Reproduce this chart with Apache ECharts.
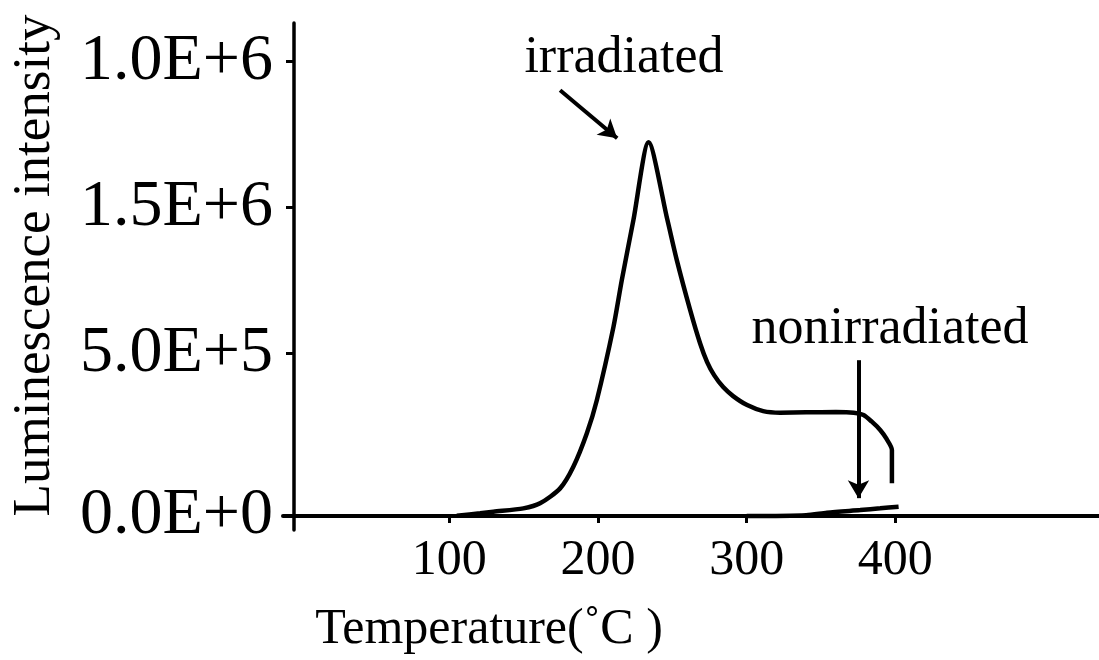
<!DOCTYPE html>
<html>
<head>
<meta charset="utf-8">
<script src="https://cdn.jsdelivr.net/npm/echarts@6/dist/echarts.min.js"></script>
<style>
  html, body { margin: 0; padding: 0; background: #fff; }
  #chart { width: 1099px; height: 660px; }
</style>
</head>
<body>
<div id="chart"></div>
<script>
// ---- data ----
const irrTemp = [105, 120.7, 129.6, 149.8, 161.0, 174.5, 183.4, 192.5, 199.2, 210.4, 216.0, 223.8, 234.0, 246.7, 253.0, 262.0, 268.7, 273.4, 278.1, 284.2, 290.9, 300.3, 311.1, 322.5, 340, 360, 372, 378.6, 384, 389.8, 394, 397.7, 397.7];
const irrIntensity = [1000, 8900, 14200, 25400, 41900, 91300, 162500, 273000, 382000, 624000, 778000, 976000, 1233000, 976000, 844000, 679000, 569000, 507700, 464800, 425300, 395600, 365900, 346100, 341000, 342000, 343000, 341000, 333000, 312000, 284000, 255000, 218000, 108000];

const nonTemp = [300, 340, 354, 376.4, 389.8, 402.2];
const nonIntensity = [0, 3000, 10900, 19800, 25400, 30700];

const xTickValues = [100, 200, 300, 400];
const yTickValues = [0, 537000, 1017000, 1500000];
const yTickLabels = ['0.0E+0', '5.0E+5', '1.5E+6', '1.0E+6'];

const arrowIrr = [[174.5, 1404000], [212.9, 1246000]];
const arrowNon = [[375.2, 514000], [375.2, 59000]];

const FONT = '"Liberation Serif", "Times New Roman", serif';

const zip = (a, b) => a.map((v, i) => [v, b[i]]);

const chart = echarts.init(document.getElementById('chart'), null, { renderer: 'canvas' });

const option = {
  animation: false,
  backgroundColor: '#ffffff',
  grid: { left: 283, right: 0, top: 23, bottom: 130, containLabel: false, outerBoundsMode: 'none' },
  xAxis: {
    type: 'value',
    min: -11.9,
    max: 537,
    splitLine: { show: false },
    axisLine: { show: true, onZero: true, lineStyle: { color: '#000', width: 4 } },
    axisTick: { show: true, customValues: xTickValues, length: 7, lineStyle: { color: '#000', width: 3 } },
    axisLabel: {
      customValues: xTickValues,
      color: '#000', fontFamily: FONT, fontSize: 50, margin: 6
    },
    name: 'Temperature(˚C )',
    nameLocation: 'middle',
    nameGap: 75,
    nameTextStyle: { color: '#000', fontFamily: FONT, fontSize: 50, padding: [0, 404, 0, 0] }
  },
  yAxis: {
    type: 'value',
    min: -46000,
    max: 1626000,
    offset: -11,
    splitLine: { show: false },
    axisLine: { show: true, onZero: false, lineStyle: { color: '#000', width: 3.5 } },
    axisTick: { show: true, customValues: yTickValues, length: 8, lineStyle: { color: '#000', width: 3 } },
    axisLabel: {
      customValues: yTickValues,
      formatter: function (v) {
        const i = yTickValues.indexOf(v);
        return i >= 0 ? yTickLabels[i] : '';
      },
      color: '#000', fontFamily: FONT, fontSize: 66, margin: 21
    },
    name: 'Luminescence intensity',
    nameLocation: 'middle',
    nameGap: 232,
    nameTextStyle: { color: '#000', fontFamily: FONT, fontSize: 53, padding: [0, 0, 0, 22] }
  },
  series: [
    {
      name: 'irradiated',
      type: 'line',
      data: zip(irrTemp, irrIntensity),
      showSymbol: false,
      smooth: 0.25,
      lineStyle: { color: '#000', width: 4.5 },
      z: 3,
      markLine: {
        silent: true,
        symbol: ['none', 'arrow'],
        symbolSize: [16, 18],
        label: { show: false },
        lineStyle: { color: '#000', width: 4, type: 'solid' },
        data: [
          [{ coord: arrowIrr[0] }, { coord: arrowIrr[1] }],
          [{ coord: arrowNon[0] }, { coord: arrowNon[1] }]
        ]
      }
    },
    {
      name: 'nonirradiated',
      type: 'line',
      data: zip(nonTemp, nonIntensity),
      showSymbol: false,
      smooth: 0.25,
      lineStyle: { color: '#000', width: 4.5 },
      z: 3
    }
  ],
  graphic: [
    { type: 'text', x: 624, y: 58.5, style: { text: 'irradiated', fill: '#000', font: '52px ' + FONT, align: 'center', verticalAlign: 'middle' } },
    { type: 'text', x: 890, y: 329, style: { text: 'nonirradiated', fill: '#000', font: '52px ' + FONT, align: 'center', verticalAlign: 'middle' } }
  ]
};

chart.setOption(option);
</script>
</body>
</html>
